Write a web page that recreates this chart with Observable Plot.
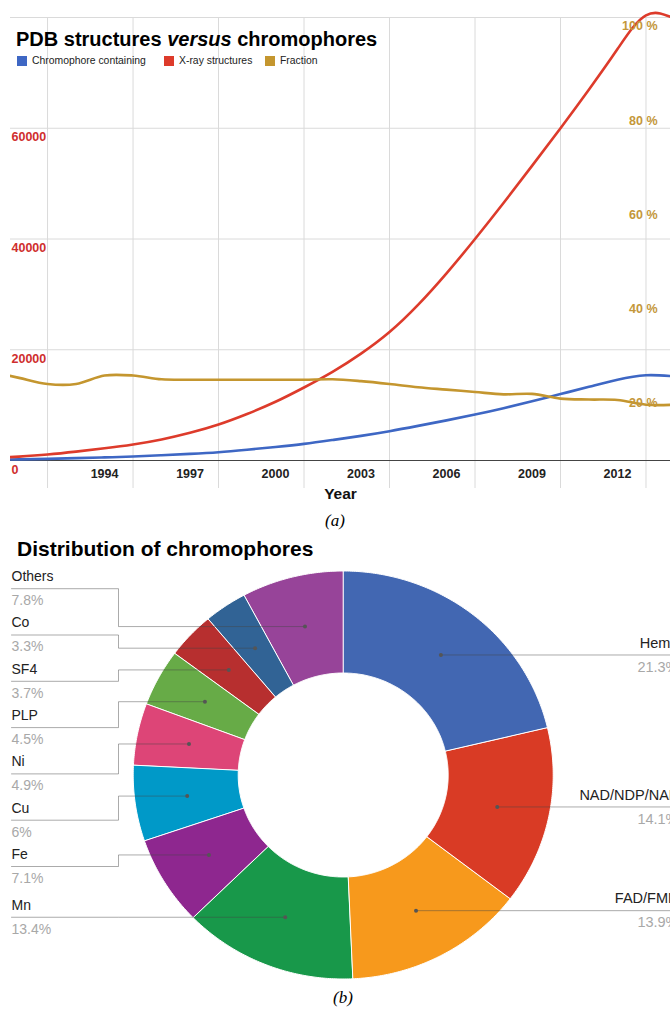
<!DOCTYPE html>
<html><head><meta charset="utf-8">
<script src="https://cdn.jsdelivr.net/npm/d3@7"></script>
<script src="https://cdn.jsdelivr.net/npm/@observablehq/plot@0.6"></script>
<style>
html,body{margin:0;padding:0;background:#fff;}
body{width:670px;height:1009px;overflow:hidden;position:relative;font-family:"Liberation Sans",Arial,sans-serif;}
.abs{position:absolute;white-space:nowrap;}
.title{font-weight:bold;color:#000;}
.leg{font-size:10.4px;color:#222;line-height:12px;display:flex;align-items:center;}
.sw{display:inline-block;width:10px;height:10px;margin-right:5px;}
.cap{font-family:"Liberation Serif","Times New Roman",serif;font-style:italic;font-size:17px;text-align:center;width:100px;line-height:20px;}
</style></head><body>
<div id="topChart" class="abs" style="left:0;top:0"></div>
<div id="bottomChart" class="abs" style="left:0;top:530px"></div>
<div class="abs title" style="left:16px;top:29px;font-size:20px;line-height:20px">PDB structures <i>versus</i> chromophores</div>
<div id="legend"></div>
<div class="abs cap" style="left:285px;top:511px">(<i>a</i>)</div>
<div class="abs title" style="left:17px;top:538px;font-size:21px;line-height:21px">Distribution of chromophores</div>
<div class="abs cap" style="left:293px;top:988px">(<i>b</i>)</div>
<script>
// ---------- Data: PDB structures vs chromophores ----------
const years = [1990,1991,1992,1993,1994,1995,1996,1997,1998,1999,2000,2001,2002,2003,2004,2005,2006,2007,2008,2009,2010,2011,2012,2013,2014];
const xrayStructures = [400,700,1080,1600,2200,2890,3800,5000,6500,8400,10600,13180,16000,19300,23200,28100,33800,40000,46500,53200,60000,67000,74300,80400,79800];
const chromophoreContaining = [100,200,300,420,560,720,950,1200,1500,1950,2450,3000,3700,4450,5290,6250,7250,8300,9450,10700,12000,13300,14600,15400,15200];
const fractionPct = [26.8,25.4,24.1,24.1,25.9,25.9,25.1,25.0,25.0,25.0,25.0,25.0,25.1,24.7,24.1,23.4,22.9,22.4,21.9,22.0,21.0,20.8,20.7,19.7,19.7];
const seriesNames = ["Chromophore containing","X-ray structures","Fraction"];
const seriesColors = ["#3e67c4","#dd3b2b","#c4962f"];
const yTickValues = [0,20000,40000,60000];
const yGridValues = [20000,40000,60000,80000];
const pctTickValues = [20,40,60,80,100];
const xTickYears = [1994,1997,2000,2003,2006,2009,2012];
const xGridYears = [1992,1995,1998,2001,2004,2007,2010,2013];

// ---------- Data: distribution of chromophores ----------
const chromophores = ["Heme","NAD/NDP/NAP","FAD/FMN","Mn","Fe","Cu","Ni","PLP","SF4","Co","Others"];
const sharePct = [21.3,14.1,13.9,13.4,7.1,6,4.9,4.5,3.7,3.3,7.8];
const sliceColors = ["#4267b2","#d93b25","#f7991c","#18984a","#8e278f","#0099c8","#dd4577","#67ab47","#b72f2f","#316395","#974499"];

// ---------- Legend ----------
const legendX = [17,164,265];
const legend = document.getElementById("legend");
seriesNames.forEach((name,i)=>{
  const d = document.createElement("div");
  d.className = "abs leg";
  d.style.left = legendX[i]+"px";
  d.style.top = "55px";
  d.innerHTML = `<span class="sw" style="background:${seriesColors[i]}"></span>${name}`;
  legend.appendChild(d);
});

// ---------- Top chart ----------
const rows = years.map((year,i)=>({year, xray: xrayStructures[i], chromo: chromophoreContaining[i], frac: fractionPct[i]}));
const Y_TOP = 83070;
const fracToY = d3.scaleLinear([7.86,105.5],[0,Y_TOP]); // secondary (percent) axis
const font = "Liberation Sans, Arial, sans-serif";
const lineOpts = {x:"year", strokeWidth:2.6, clip:true};
const topPlot = Plot.plot({
  width:670, height:510, marginLeft:10, marginRight:0, marginTop:0, marginBottom:22,
  style:{fontFamily:font, background:"transparent"},
  x:{domain:[1990.7,2013.86], axis:null},
  y:{domain:[0,Y_TOP], range:[460,0], axis:null},
  marks:[
    Plot.ruleX(xGridYears,{stroke:"#dadada", strokeWidth:1, insetTop:17}),
    Plot.ruleY(yGridValues,{stroke:"#dadada", strokeWidth:1}),
    Plot.ruleY([0],{stroke:"#444", strokeWidth:1}),
    Plot.line(rows,{...lineOpts, y:"chromo", stroke:seriesColors[0], curve:"natural"}),
    Plot.line(rows,{...lineOpts, y:"xray", stroke:seriesColors[1], curve:"natural"}),
    Plot.line(rows,{...lineOpts, y:d=>fracToY(d.frac), stroke:seriesColors[2], curve:"catmull-rom"}),
    Plot.text(yTickValues,{y:d=>d, frameAnchor:"left", dx:1, dy:9, textAnchor:"start", text:d=>String(d), fill:"#cf2e2e", fontWeight:"bold", fontSize:12.5}),
    Plot.text(pctTickValues,{y:d=>fracToY(d), frameAnchor:"right", dx:-13, textAnchor:"end", text:d=>`${d} %`, fill:"#c4973a", fontWeight:"bold", fontSize:12.5}),
    Plot.text(xTickYears,{x:d=>d, frameAnchor:"bottom", dy:-11, text:d=>String(d), fill:"#222", fontWeight:"bold", fontSize:12.5}),
    Plot.text(["Year"],{frameAnchor:"bottom", dy:10, text:d=>d, fill:"#111", fontWeight:"bold", fontSize:15.5})
  ]
});
document.getElementById("topChart").appendChild(topPlot);

// ---------- Bottom chart (donut) ----------
const X_RANGE = [132.7,552.7], Y_RANGE = [448.5,40.5];
const sx = d3.scaleLinear([-1,1],X_RANGE), sy = d3.scaleLinear([-1,1],Y_RANGE);
const HOLE = 0.5, DOT_R = 0.75;
const arcs = d3.pie().sort(null)(sharePct);
const slicePts = [];
arcs.forEach((a,i)=>{
  const n = Math.max(2, Math.ceil((a.endAngle-a.startAngle)/0.01));
  for (let t=0;t<=n;t++){ const th=a.startAngle+(a.endAngle-a.startAngle)*t/n; slicePts.push({name:chromophores[i], x:Math.sin(th), y:Math.cos(th)}); }
  for (let t=n;t>=0;t--){ const th=a.startAngle+(a.endAngle-a.startAngle)*t/n; slicePts.push({name:chromophores[i], x:HOLE*Math.sin(th), y:HOLE*Math.cos(th)}); }
});
// label layout (pixel space, then back to scale units)
const labels = arcs.map((a,i)=>{
  const m = (a.startAngle+a.endAngle)/2;
  const px = sx(DOT_R*Math.sin(m)), py = sy(DOT_R*Math.cos(m));
  return {name:chromophores[i], share:sharePct[i], side: m<Math.PI?"right":"left", px, py, desired: py};
});
const SPACING = 46.3, MIN_Y = sy(1)+17.7;
function stack(items){
  items.sort((a,b)=>a.desired-b.desired);
  const cl=[];
  for (const it of items){
    let c={items:[it], start:Math.max(MIN_Y,it.desired)};
    while (cl.length){
      const p=cl[cl.length-1];
      if (p.start+p.items.length*SPACING>c.start){
        cl.pop();
        const its=p.items.concat(c.items);
        c={items:its, start:Math.max(MIN_Y, d3.mean(its,(d,k)=>d.desired-k*SPACING))};
      } else break;
    }
    cl.push(c);
  }
  cl.forEach(c=>c.items.forEach((d,k)=>d.ly=c.start+k*SPACING));
}
const leftL = labels.filter(d=>d.side==="left"), rightL = labels.filter(d=>d.side==="right");
stack(leftL); stack(rightL);
const TEXT_L = 11, ELBOW_L = X_RANGE[0]-14.7, ELBOW_R = X_RANGE[1]+14.7, TEXT_R = 678, EDGE_R = 682;
const leaderPts = [];
leftL.forEach(d=>{
  [[TEXT_L,d.ly],[ELBOW_L,d.ly],[ELBOW_L,d.py],[d.px,d.py]].forEach(([x,y])=>leaderPts.push({name:d.name,x:sx.invert(x),y:sy.invert(y)}));
});
rightL.forEach(d=>{
  [[d.px,d.py],[ELBOW_R,d.py],[ELBOW_R,d.ly],[EDGE_R,d.ly]].forEach(([x,y])=>leaderPts.push({name:d.name,x:sx.invert(x),y:sy.invert(y)}));
});
const labTxt = (arr, xpx, anchor, fs) => [
  Plot.text(arr,{x:()=>sx.invert(xpx), y:d=>sy.invert(d.ly), dy:-12, text:"name", textAnchor:anchor, fontSize:fs, fill:"#222"}),
  Plot.text(arr,{x:()=>sx.invert(xpx), y:d=>sy.invert(d.ly), dy:12, text:d=>`${d.share}%`, textAnchor:anchor, fontSize:fs, fill:"#a8a8a8"})
];
const bottomPlot = Plot.plot({
  width:670, height:479, margin:0,
  style:{fontFamily:font, background:"transparent"},
  x:{domain:[-1,1], range:X_RANGE, axis:null},
  y:{domain:[-1,1], range:Y_RANGE, axis:null},
  color:{domain:chromophores, range:sliceColors},
  marks:[
    Plot.line(slicePts,{x:"x", y:"y", z:"name", fill:"name", stroke:"white", strokeWidth:1, curve:"linear-closed"}),
    Plot.line(leaderPts,{x:"x", y:"y", z:"name", stroke:"#444", strokeOpacity:0.45, strokeWidth:1}),
    Plot.dot(labels,{x:d=>sx.invert(d.px), y:d=>sy.invert(d.py), r:2, fill:"#555", stroke:"none"}),
    ...labTxt(leftL, TEXT_L, "start", 14),
    ...labTxt(rightL, TEXT_R, "end", 14.5)
  ]
});
document.getElementById("bottomChart").appendChild(bottomPlot);
</script>
</body></html>
